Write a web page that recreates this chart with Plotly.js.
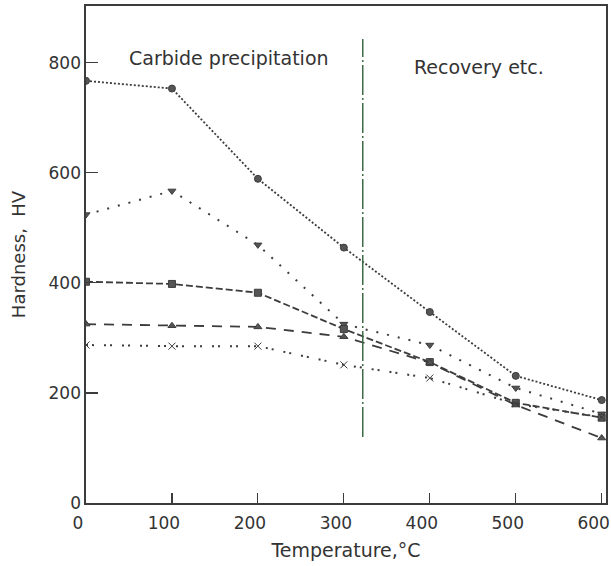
<!DOCTYPE html>
<html>
<head>
<meta charset="utf-8">
<script src="https://cdn.plot.ly/plotly-3.0.1.min.js"></script>
<style>html,body{margin:0;padding:0;background:#fff;}#chart{width:611px;height:566px;}</style>
</head>
<body>
<div id="chart"></div>
<script>
// Tempering temperature (°C)
const temperature = [0, 100, 200, 300, 400, 500, 600];

// Hardness (HV) of the five tempered steels
const hvCircle   = [767, 753, 589, 464, 347, 231, 187];
const hvTriDown  = [524, 567, 469, 325, 287, 209, 162];
const hvSquare   = [402, 398, 382, 316, 256, 182, 155];
const hvTriUp    = [325, 322, 320, 302, 255, 178, 118];
const hvCross    = [287, 285, 285, 251, 227, 180, 156];

// Boundary between the two tempering stages
const boundaryT  = [322, 322];
const boundaryHV = [120, 843];

const yTicks = [0, 200, 400, 600, 800];
const xTicks = [0, 100, 200, 300, 400, 500, 600];

const ink = '#3c3c3c';
const font = 'DejaVu Sans, Verdana, sans-serif';

function series(y, dash, symbol, width) {
  return {
    x: temperature, y: y, type: 'scatter', mode: 'lines+markers',
    line: {color: ink, width: width || 1.6, dash: dash},
    marker: {symbol: symbol, size: 7, color: '#555', line: {color: ink, width: 1}},
    showlegend: false, hoverinfo: 'x+y'
  };
}

const data = [
  series(hvCircle, '2px,2px', 'circle', 1.8),
  series(hvTriDown, '2px,9px', 'triangle-down', 2),
  series(hvSquare, '7px,3px', 'square', 1.8),
  series(hvTriUp, '10px,8px', 'triangle-up', 1.8),
  series(hvCross, '2px,4px,2px,10px', 'x-thin', 2),
  {
    x: boundaryT, y: boundaryHV, type: 'scatter', mode: 'lines',
    line: {color: '#3f6b48', width: 1.5, dash: '30px,3px,2px,3px'},
    showlegend: false, hoverinfo: 'skip'
  }
];

const layout = {
  width: 611, height: 566,
  margin: {l: 86, r: 5, t: 6, b: 63},
  paper_bgcolor: '#fff', plot_bgcolor: '#fff',
  font: {family: font, color: '#333', size: 16},
  xaxis: {
    range: [0, 605], tickvals: xTicks, ticktext: xTicks.map(String),
    ticks: 'inside', ticklen: 10, tickwidth: 1.2, tickcolor: ink,
    showline: true, linecolor: ink, linewidth: 1.6, mirror: true,
    showgrid: false, zeroline: false,
    ticklabelshift: -8, ticklabelstandoff: 4, ticklabeloverflow: 'allow',
    tickfont: {size: 17, color: '#333', family: font},
    title: {text: 'Temperature,°C', font: {size: 19, color: '#333', family: font}, standoff: 11}
  },
  yaxis: {
    range: [0, 903], tickvals: yTicks, ticktext: yTicks.map(String),
    ticks: 'inside', ticklen: 12, tickwidth: 1.2, tickcolor: ink,
    showline: true, linecolor: ink, linewidth: 1.6, mirror: true,
    showgrid: false, zeroline: false,
    tickfont: {size: 17, color: '#333', family: font},
    title: {text: 'Hardness,\u00a0 HV', font: {size: 18, color: '#333', family: font}, standoff: 18}
  },
  annotations: [
    {x: 166, y: 808, xref: 'x', yref: 'y', text: 'Carbide precipitation', showarrow: false,
     font: {size: 19, color: '#333', family: font}},
    {x: 457, y: 793, xref: 'x', yref: 'y', text: 'Recovery etc.', showarrow: false,
     font: {size: 19, color: '#333', family: font}}
  ]
};

Plotly.newPlot('chart', data, layout, {displayModeBar: false, staticPlot: true});
</script>
</body>
</html>
